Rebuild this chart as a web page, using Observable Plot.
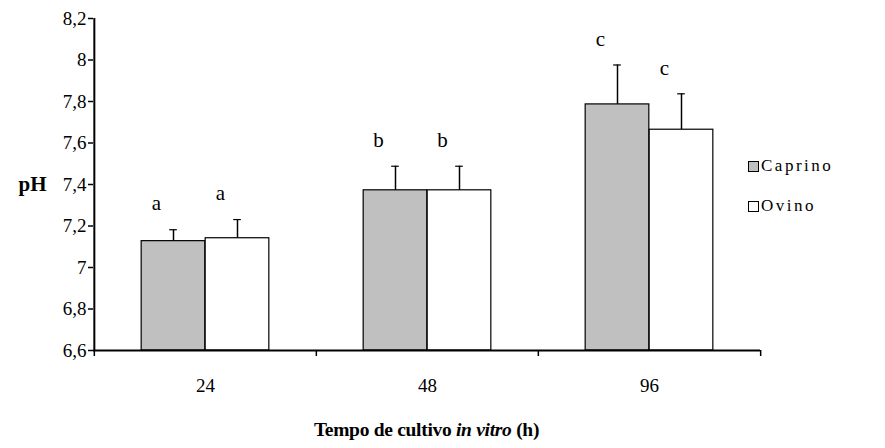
<!DOCTYPE html>
<html>
<head>
<meta charset="utf-8">
<script src="https://cdn.jsdelivr.net/npm/d3@7"></script>
<script src="https://cdn.jsdelivr.net/npm/@observablehq/plot@0.6"></script>
<style>
  html, body { margin: 0; padding: 0; background: #fff; }
  #wrap { position: relative; width: 885px; height: 448px; font-family: "Liberation Serif", "Times New Roman", serif; }
  #chart svg, #chart svg text { font-family: "Liberation Serif", "Times New Roman", serif !important; }
  #caption { position: absolute; left: 93px; width: 667px; top: 419px; text-align: center; font-weight: bold; font-size: 19.5px; letter-spacing: -0.3px; }
  .leg { position: absolute; left: 748px; font-size: 17px; display: flex; align-items: center; letter-spacing: 2.5px; }
  .sw { width: 9px; height: 9px; border: 1px solid #000; margin-right: 2px; }
</style>
</head>
<body>
<div id="wrap">
  <div id="chart"></div>
  <div id="caption">Tempo de cultivo <i>in vitro</i> (h)</div>
  <div class="leg" style="top:156px"><div class="sw" style="background:#c0c0c0"></div>Caprino</div>
  <div class="leg" style="top:196px"><div class="sw" style="background:#fff"></div>Ovino</div>
</div>
<script>
const categories = ["24", "48", "96"];
const series = ["Caprino", "Ovino"];
const caprino = [7.127, 7.372, 7.786];
const ovino = [7.141, 7.372, 7.664];
const caprinoErr = [0.055, 0.116, 0.19];
const ovinoErr = [0.09, 0.116, 0.173];
const caprinoLetters = ["a", "b", "c"];
const ovinoLetters = ["a", "b", "c"];
const yTicks = [6.6, 6.8, 7, 7.2, 7.4, 7.6, 7.8, 8, 8.2];
const colors = {Caprino: "#c0c0c0", Ovino: "#ffffff"};

const rows = [];
categories.forEach((c, i) => {
  rows.push({time: c, series: "Caprino", value: caprino[i], err: caprinoErr[i], letter: caprinoLetters[i]});
  rows.push({time: c, series: "Ovino", value: ovino[i], err: ovinoErr[i], letter: ovinoLetters[i]});
});

const FONT = "'Liberation Serif', 'Times New Roman', serif";
const W = 885, H = 400, mL = 93, mR = 125, mT = 18, mB = 50;
const bw = (W - mL - mR) / categories.length;   // band width
const barW = 64;
const gap = (bw - 2 * barW) / 2;
const capHalf = 4;
const fmt = d => String(d).replace(".", ",");

const marks = [];
series.forEach((s, k) => {
  const data = rows.filter(d => d.series === s);
  const left = gap + k * barW;            // bar's left edge inside the band
  const center = left + barW / 2 - bw / 2; // offset of bar centre from band centre
  marks.push(Plot.ruleX(data, {x: "time", y1: "value", y2: d => d.value + d.err, dx: center, stroke: "#000", strokeWidth: 1.5}));
  marks.push(Plot.tickY(data, {x: "time", y: d => d.value + d.err, insetLeft: left + barW / 2 - capHalf, insetRight: bw - left - barW / 2 - capHalf, stroke: "#000", strokeWidth: 1.2}));
  marks.push(Plot.barY(data, {x: "time", y1: yTicks[0], y2: "value", fill: colors[s], stroke: "#000", strokeWidth: 1.2, insetLeft: left, insetRight: bw - left - barW}));
  marks.push(Plot.text(data, {x: "time", y: d => d.value + d.err, text: "letter", dx: center - 17, dy: -26, fontSize: 21, fontFamily: FONT, fill: "#000"}));
});

const chart = Plot.plot({
  width: W, height: H,
  marginLeft: mL, marginRight: mR, marginTop: mT, marginBottom: mB,
  style: {fontFamily: FONT, color: "#000", background: "#fff"},
  x: {type: "band", domain: categories, padding: 0, axis: null},
  y: {domain: [yTicks[0], yTicks[yTicks.length - 1]], axis: null},
  marks: [
    ...marks,
    Plot.axisY({ticks: yTicks, tickFormat: fmt, tickSize: 5, tickPadding: 2, fontSize: 19, fontFamily: FONT, label: null, strokeWidth: 1.5}),
    Plot.ruleX([categories[0]], {dx: -bw / 2, stroke: "#000", strokeWidth: 2}),
    Plot.ruleY([yTicks[0]], {stroke: "#000", strokeWidth: 2}),
    Plot.axisX({tickSize: 6, tickFormat: () => "", dx: -bw / 2, label: null, strokeWidth: 1.5}),
    Plot.axisX({ticks: [categories[categories.length - 1]], tickSize: 6, tickFormat: () => "", dx: bw / 2, label: null, strokeWidth: 1.5}),
    Plot.axisX({tickSize: 0, tickPadding: 28, fontSize: 19, fontFamily: FONT, label: null}),
    Plot.text(["pH"], {frameAnchor: "left", y: 7.4, dx: -47, textAnchor: "end", fontWeight: "bold", fontSize: 21, fontFamily: FONT})
  ]
});
document.getElementById("chart").appendChild(chart);
</script>
</body>
</html>
